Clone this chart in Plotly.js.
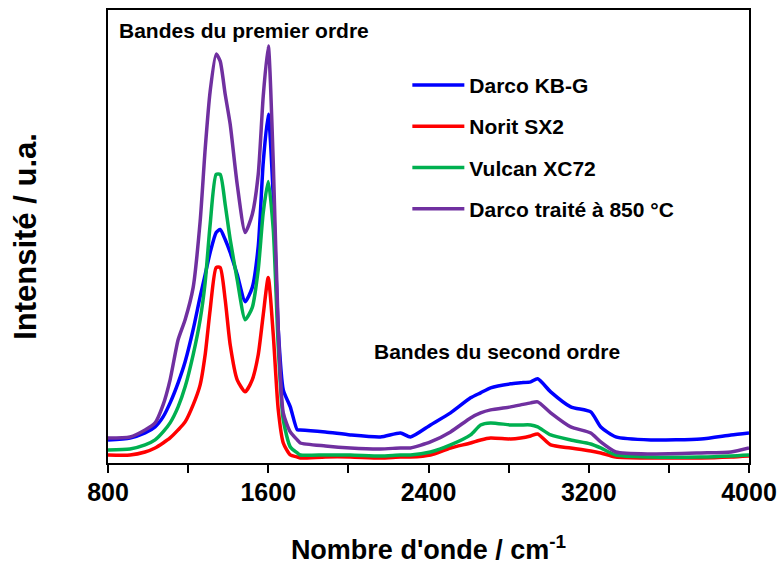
<!DOCTYPE html>
<html>
<head>
<meta charset="utf-8">
<script src="https://cdn.plot.ly/plotly-3.0.1.min.js"></script>
<style>
html,body{margin:0;padding:0;background:#fff;}
#chart{width:781px;height:565px;}
</style>
</head>
<body>
<div id="chart"></div>
<script>
// Raman shift (cm-1)
const wavenumber = [800,910,985,1035,1075,1110,1150,1185,1225,1260,1285,1310,1340,1360,1385,1410,1445,1485,1520,1550,1575,1600,1625,1650,1675,1710,1745,1760,1885,2010,2160,2260,2310,2410,2510,2610,2660,2710,2810,2860,2910,2945,3010,3110,3210,3260,3335,3510,3760,3910,4000];

// Intensities (u.a.)
const darcoKBG = [23,25,30,36,46,60,80,101,133,166,188,210,230,233,223,210,188,161,175,216,300,348,266,133,73,56,33,33,31,28,26,30,26,38,50,65,70,75,79,80,81,84,71,56,51,36,26,23,24,28,30];
const noritSX2 = [8,8,11,15,20,25,33,41,58,78,108,153,195,195,163,118,83,71,83,108,148,185,128,53,20,8,6,5,6,6,5,6,6,8,15,20,23,25,24,25,27,29,18,15,12,10,6,5,5,6,7];
const vulcanXC72 = [13,14,18,23,31,40,56,76,108,143,180,238,288,288,258,223,183,143,155,193,250,281,233,116,43,16,10,8,8,8,7,8,8,11,18,28,38,40,38,38,38,36,28,23,19,15,8,6,6,7,8];
const darco850 = [25,26,33,40,58,83,123,143,175,241,313,371,408,401,368,338,278,230,248,288,366,416,300,133,50,31,23,20,17,15,14,15,15,21,31,45,50,53,56,58,60,61,50,36,30,21,11,9,10,11,15];

const seriesNames = ["Darco KB-G", "Norit SX2", "Vulcan XC72", "Darco traité à 850 °C"];
const seriesColors = ["#0000FF", "#FF0000", "#00B050", "#7030A0"];
const seriesValues = [darcoKBG, noritSX2, vulcanXC72, darco850];

const FONT = "Liberation Sans, Arial, sans-serif";

const traces = seriesValues.map((vals, i) => ({
  type: "scatter",
  mode: "lines",
  x: wavenumber,
  y: vals,
  name: seriesNames[i],
  legendgroup: "g" + i,
  line: {color: seriesColors[i], width: 3.5, shape: "spline", smoothing: 0.6}
}));

const layout = {
  width: 781,
  height: 565,
  margin: {l: 108, r: 32, t: 10, b: 102},
  paper_bgcolor: "#ffffff",
  plot_bgcolor: "#ffffff",
  showlegend: true,
  legend: {
    x: 0.467, y: 0.879, xanchor: "left", yanchor: "top",
    font: {family: FONT, size: 21, color: "#000", weight: 700},
    tracegroupgap: 11,
    itemwidth: 52,
    bgcolor: "rgba(0,0,0,0)"
  },
  xaxis: {
    range: [800, 4000],
    tick0: 800,
    dtick: 800,
    ticks: "outside",
    ticklen: 8,
    tickwidth: 2,
    tickcolor: "#000",
    minor: {dtick: 400, tick0: 800, ticks: "outside", ticklen: 8, tickwidth: 2, tickcolor: "#000", showgrid: false},
    showline: true,
    linecolor: "#000",
    linewidth: 2,
    mirror: true,
    showgrid: false,
    zeroline: false,
    ticklabelstandoff: -2,
    tickfont: {family: FONT, size: 25, color: "#000", weight: 700},
    title: {text: "Nombre d'onde / cm<sup>-1</sup>", font: {family: FONT, size: 27, color: "#000", weight: 700}, standoff: 36}
  },
  yaxis: {
    range: [0, 452],
    showticklabels: false,
    ticks: "",
    showline: true,
    linecolor: "#000",
    linewidth: 2,
    mirror: true,
    showgrid: false,
    zeroline: false,
    title: {text: "Intensité / u.a.", font: {family: FONT, size: 31, color: "#000", weight: 700}, standoff: 60}
  },
  annotations: [
    {x: 843, y: 432, xref: "x", yref: "y", xanchor: "left", yanchor: "middle", showarrow: false,
     text: "Bandes du premier ordre", font: {family: FONT, size: 21, color: "#000", weight: 700}},
    {x: 2116, y: 111, xref: "x", yref: "y", xanchor: "left", yanchor: "middle", showarrow: false,
     text: "Bandes du second ordre", font: {family: FONT, size: 21, color: "#000", weight: 700}}
  ]
};

Plotly.newPlot("chart", traces, layout, {displayModeBar: false, staticPlot: true});
</script>
</body>
</html>
